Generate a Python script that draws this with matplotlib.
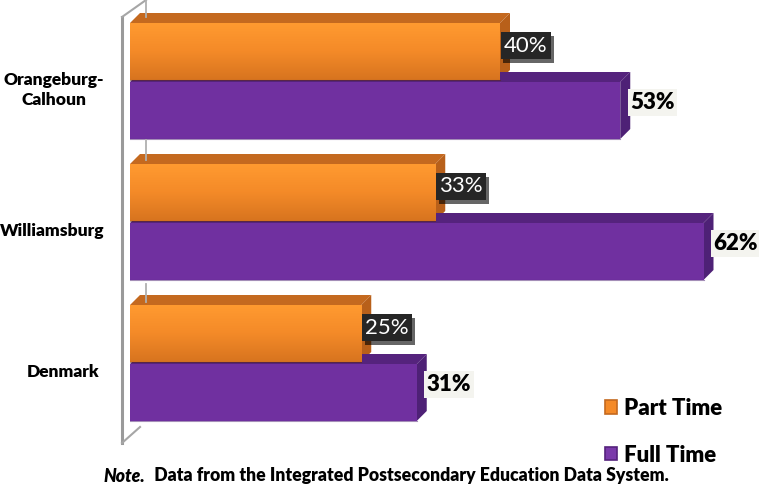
import numpy as np
import matplotlib
matplotlib.use("Agg")
import matplotlib.pyplot as plt
from matplotlib.patches import Polygon, Rectangle, Patch
from matplotlib.colors import LinearSegmentedColormap
import matplotlib.patheffects as pe

plt.rcParams['font.family'] = ['Lato', 'DejaVu Sans']

categories = ["Orangeburg-\nCalhoun", "Williamsburg", "Denmark"]
part_time = [40, 33, 25]
full_time = [53, 62, 31]
series_names = ["Part Time", "Full Time"]
note_bold = "Note."
note_rest = "  Data from the Integrated Postsecondary Education Data System."

W, H = 759, 487
fig = plt.figure(figsize=(W / 100, H / 100), dpi=100)

left_px = 130
pxper = 9.25
ax = fig.add_axes([left_px / W, 0, 1 - left_px / W, 1])
xmax = (W - left_px) / pxper
ax.set_xlim(0, xmax)
S = 141.0
first_c = 81.0
ax.set_ylim((H - first_c) / S, -first_c / S)
ax.axis('off')

dx = 10 / pxper
dy = 10 / S
bh = 57 / S
gap = 2 / S

orange_top = '#c4691f'
orange_side = '#b8601a'
purple_front = '#7030a0'
purple_top = '#55237d'
purple_side = '#4e2176'

grad = np.linspace(0, 1, 64).reshape(-1, 1)
ocmap = LinearSegmentedColormap.from_list('o', ['#ff9a30', '#f48a28', '#d7741f'])

def bar3d(v, ytop, kind):
    ybot = ytop + bh
    if kind == 'o':
        topc, sidec = orange_top, orange_side
    else:
        topc, sidec = purple_top, purple_side
    ax.add_patch(Polygon([(0, ytop), (v, ytop), (v + dx, ytop - dy), (dx, ytop - dy)],
                         closed=True, fc=topc, ec='none', zorder=2))
    ax.add_patch(Polygon([(v, ytop), (v + dx, ytop - dy), (v + dx, ybot - dy), (v, ybot)],
                         closed=True, fc=sidec, ec='none', zorder=2))
    rect = Rectangle((0, ytop), v, bh, fc=purple_front if kind == 'p' else '#f48a28',
                     ec='none', zorder=3)
    ax.add_patch(rect)
    if kind == 'o':
        im = ax.imshow(grad, extent=(0, v, ybot, ytop), cmap=ocmap, aspect='auto',
                       zorder=3.5, origin='upper')
        im.set_clip_path(rect)
    ax.plot([0, v], [ybot, ybot], color='#5c2a10' if kind == 'o' else '#4a1f70',
            lw=0.8, alpha=0.5, zorder=4)

def fl(xs, ys, lw=1.5, c='#a6a6a6'):
    fig.add_artist(plt.Line2D([x / W for x in xs], [1 - y / H for y in ys],
                              color=c, lw=lw, zorder=1))
fl([122, 122], [17, 443], lw=2.2, c='#9a9a9a')
fl([122, 146], [17, 0])
fl([122, 140], [443, 427])
fl([146, 146], [0, 17], lw=1.3, c='#b0b0b0')
fl([146, 146], [140, 160], lw=1.3, c='#b0b0b0')
fl([146, 146], [284, 302], lw=1.3, c='#b0b0b0')

ax.set_autoscale_on(False)
for i in range(len(categories)):
    yo_top = i - bh - gap / 2
    yp_top = i + gap / 2
    bar3d(part_time[i], yo_top, 'o')
    bar3d(full_time[i], yp_top, 'p')
    t = ax.annotate(f"{part_time[i]}%", xy=(part_time[i], yo_top + bh / 2),
                    xytext=(4 * 0.72, 6 * 0.72), textcoords='offset points',
                    ha='left', va='center', fontsize=16, color='white', zorder=6,
                    bbox=dict(boxstyle='square,pad=0.15', fc='#262626', ec='none'))
    t.get_bbox_patch().set_path_effects([pe.withSimplePatchShadow(offset=(2, -3),
                                         shadow_rgbFace='#000000', alpha=0.6)])
    ax.annotate(f"{full_time[i]}%", xy=(full_time[i], yp_top + bh / 2),
                xytext=(10 * 0.72, 8 * 0.72), textcoords='offset points',
                ha='left', va='center', fontsize=16, fontweight='heavy', color='black',
                zorder=6,
                bbox=dict(boxstyle='square,pad=0.12', fc='#f4f4ef', ec='none'))

cat_x = [54, 52, 63]
for i, c in enumerate(categories):
    ypx = first_c + i * S + 9
    fig.text(cat_x[i] / W, 1 - ypx / H, c, ha='center', va='center',
             fontsize=12.5, fontweight='heavy', linespacing=1.3)

handles = [Patch(fc='#f48a28', ec='#c4691f', lw=1.2),
           Patch(fc='#7a3aaa', ec='#55237d', lw=1.2)]
leg = fig.legend(handles, series_names, loc='upper left',
                 bbox_to_anchor=(605 / W, 1 - 398 / H), frameon=False,
                 prop=dict(size=16, weight='heavy'), handlelength=0.55, handleheight=0.55,
                 handletextpad=0.3, labelspacing=1.15, borderpad=0, borderaxespad=0)

t1 = fig.text(104 / W, 1 - 476 / H, note_bold, ha='left', va='center', fontsize=12.7,
              fontweight='heavy', fontstyle='italic')
ax.annotate(note_rest, xy=(1, 0.5), xycoords=t1, ha='left', va='center',
            fontsize=12.7, fontweight='heavy', annotation_clip=False)

fig.savefig('out.png', dpi=100)
